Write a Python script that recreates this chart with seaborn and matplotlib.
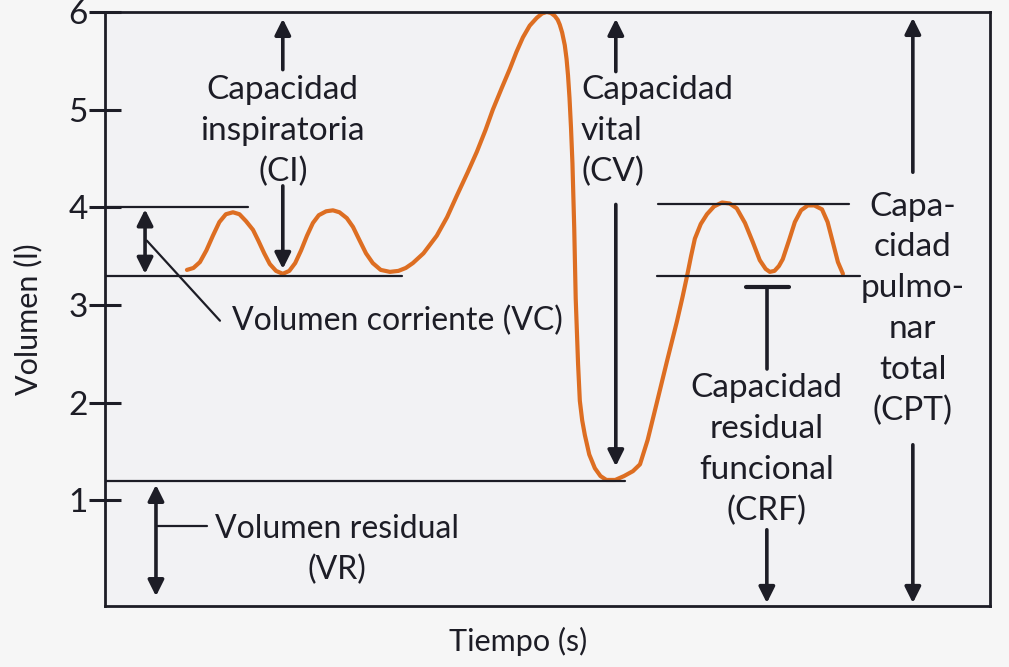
import matplotlib
matplotlib.use('Agg')
import matplotlib.pyplot as plt
import seaborn as sns
import pandas as pd

# Spirogram trace (time in s, volume in litres)
tiempo = [2.78, 3.00, 3.22, 3.44, 3.66, 3.88, 4.10, 4.34, 4.56, 4.78, 5.02, 5.20,
          5.40, 5.59, 5.80, 6.03, 6.25, 6.45, 6.65, 6.85, 7.05, 7.25, 7.50, 7.73,
          7.95, 8.20, 8.41, 8.62, 8.85, 9.08, 9.35, 9.66, 9.95, 10.20, 10.44, 10.80,
          11.25, 11.60, 11.93, 12.30, 12.61, 12.90, 13.15, 13.45, 13.73, 13.95,
          14.17, 14.40, 14.64, 14.82, 14.98, 15.12, 15.25, 15.35, 15.42, 15.50,
          15.59, 15.65, 15.70, 15.75, 15.80, 15.85, 15.91, 15.96, 16.04, 16.10,
          16.18, 16.27, 16.42, 16.61, 16.80, 17.00, 17.30, 17.60, 17.90, 18.14,
          18.40, 18.71, 19.05, 19.39, 19.58, 19.73, 19.87, 20.00, 20.20, 20.41,
          20.65, 20.92, 21.18, 21.42, 21.70, 21.97, 22.20, 22.40, 22.54, 22.70,
          22.85, 22.98, 23.20, 23.39, 23.60, 23.83, 24.05, 24.31, 24.50, 24.68,
          24.85, 25.02]
volumen = [3.36, 3.38, 3.44, 3.56, 3.71, 3.85, 3.93, 3.95, 3.93, 3.86, 3.77, 3.66,
           3.53, 3.42, 3.35, 3.32, 3.35, 3.43, 3.56, 3.71, 3.84, 3.92, 3.96, 3.97,
           3.95, 3.89, 3.80, 3.67, 3.53, 3.43, 3.36, 3.34, 3.35, 3.38, 3.43, 3.53,
           3.71, 3.90, 4.12, 4.36, 4.57, 4.79, 5.00, 5.22, 5.42, 5.59,
           5.74, 5.86, 5.94, 5.985, 6.00, 5.99, 5.96, 5.92, 5.87, 5.79,
           5.66, 5.52, 5.35, 5.12, 4.82, 4.45, 3.79, 3.07, 2.40, 2.02,
           1.82, 1.67, 1.47, 1.33, 1.25, 1.21, 1.21, 1.25, 1.30, 1.37,
           1.62, 2.00, 2.42, 2.83, 3.08, 3.29, 3.50, 3.68, 3.83, 3.93,
           4.01, 4.05, 4.04, 3.99, 3.84, 3.64, 3.46, 3.37, 3.34, 3.35,
           3.40, 3.47, 3.67, 3.85, 3.97, 4.02, 4.02, 3.98, 3.85, 3.64,
           3.44, 3.32]

yticks = [1, 2, 3, 4, 5, 6]

# reference levels (litres)
vri = 4.0       # end of tidal inspiration
crf = 3.3       # functional residual capacity
vr = 1.2        # residual volume
cpt = 6.0       # total lung capacity

INK = '#1d1d26'
ORANGE = '#dd6e22'

sns.set_theme(style='white')
plt.rcParams['font.family'] = ['Lato', 'DejaVu Sans']

fig = plt.figure(figsize=(10.09, 6.67), dpi=100, facecolor='#f6f6f6')
ax = fig.add_axes([0.104, 0.0915, 0.877, 0.8905])
ax.set_facecolor('#f2f2f4')

df = pd.DataFrame({'Tiempo': tiempo, 'Volumen': volumen})
sns.lineplot(data=df, x='Tiempo', y='Volumen', sort=False, color=ORANGE,
             lw=3, ax=ax, solid_joinstyle='round', solid_capstyle='round')

ax.set_xlim(0, 30)
ax.set_ylim(-0.08, cpt)

# reference lines
lk = dict(color=INK, lw=1.6)
ax.plot([0, 4.85], [vri, vri], **lk)
ax.plot([0, 10.07], [crf, crf], **lk)
ax.plot([0, 17.63], [vr, vr], **lk)
ax.plot([18.75, 25.22], [4.03, 4.03], **lk)
ax.plot([18.71, 25.59], [crf, crf], **lk)


def arrow(x, y0, y1, style='-|>'):
    ax.annotate('', xy=(x, y1), xytext=(x, y0),
                arrowprops=dict(arrowstyle=style, color=INK, lw=2.6,
                                mutation_scale=24, shrinkA=0, shrinkB=0))


fs = 24
tk = dict(color=INK, fontsize=fs, linespacing=1.45)

# Volumen corriente
arrow(1.36, 3.32, 3.98, '<|-|>')
ax.plot([1.42, 3.9], [3.66, 2.84], **lk)
ax.text(4.3, 2.84, 'Volumen corriente (VC)', ha='left', va='center',
        color=INK, fontsize=23)

# Capacidad inspiratoria
arrow(6.03, 5.41, 5.93)
ax.text(6.03, 4.78, 'Capacidad\ninspiratoria\n(CI)', ha='center', va='center',
        multialignment='center', **tk)
arrow(6.03, 4.22, 3.37)

# Capacidad vital
arrow(17.32, 5.39, 5.93)
ax.text(16.14, 4.78, 'Capacidad\nvital\n(CV)', ha='left', va='center',
        multialignment='left', **tk)
arrow(17.32, 4.03, 1.35)

# Volumen residual
arrow(1.73, 0.02, 1.16, '<|-|>')
ax.plot([1.76, 3.46], [0.74, 0.74], **lk)
ax.text(7.86, 0.50, 'Volumen residual\n(VR)', ha='center', va='center',
        multialignment='center', color=INK, fontsize=23, linespacing=1.45)

# Capacidad residual funcional
ax.plot([21.73, 23.19], [3.19, 3.19], color=INK, lw=3)
ax.plot([22.44, 22.44], [3.19, 2.35], color=INK, lw=2.6)
ax.text(22.44, 1.52, 'Capacidad\nresidual\nfuncional\n(CRF)', ha='center',
        va='center', multialignment='center', **tk)
arrow(22.44, 0.70, -0.05)

# Capacidad pulmonar total
arrow(27.39, 4.36, 5.94)
ax.text(27.39, 2.96, 'Capa-\ncidad\npulmo-\nnar\ntotal\n(CPT)', ha='center',
        va='center', multialignment='center', **tk)
arrow(27.39, 1.57, -0.05)

ax.set_xticks([])
ax.set_yticks(yticks)
ax.tick_params(axis='y', direction='inout', length=23, width=2.2, color=INK,
               labelsize=fs, labelcolor=INK, pad=1, left=True)
for s in ax.spines.values():
    s.set_visible(True)
    s.set_color(INK)
    s.set_linewidth(2)

ax.set_xlabel('Tiempo (s)', fontsize=22, color=INK)
ax.set_ylabel('Volumen (l)', fontsize=22, color=INK)
ax.xaxis.set_label_coords(0.467, -0.035)
ax.yaxis.set_label_coords(-0.071, 0.483)

plt.savefig('out.png', dpi=100, facecolor=fig.get_facecolor())
plt.close()
